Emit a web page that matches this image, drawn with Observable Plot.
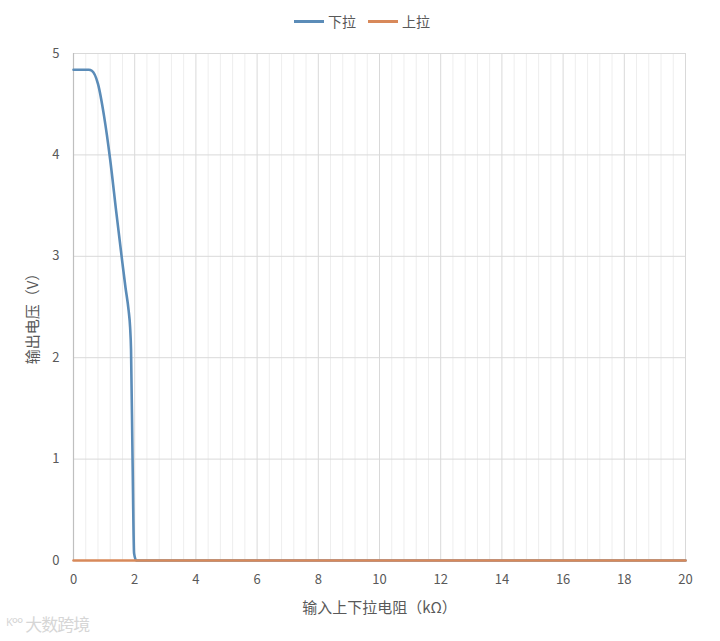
<!DOCTYPE html>
<html><head><meta charset="utf-8">
<script src="https://cdn.jsdelivr.net/npm/d3@7"></script>
<script src="https://cdn.jsdelivr.net/npm/@observablehq/plot@0.6"></script>
<style>
body{margin:0;background:#fff;font-family:"Noto Sans CJK SC","Noto Sans",sans-serif;}
#wrap{position:relative;width:720px;height:641px;overflow:hidden;}
#legend{position:absolute;top:11px;left:0;width:724px;display:flex;justify-content:center;align-items:center;font-size:14px;color:#595959;line-height:20px;}
.item{display:flex;align-items:center;margin:0 6px;}
.sw{display:inline-block;width:30px;height:3px;margin-right:4px;}
#wm{position:absolute;left:6px;top:611px;font-size:17px;color:#d6d6d6;letter-spacing:-1px;}
</style></head>
<body>
<div id="wrap">
  <div id="chart"></div>
  <div id="legend"></div>
  <div id="wm">ᴷ°° 大数跨境</div>
</div>
<script>
const seriesNames = ["下拉", "上拉"];
const seriesColors = ["#5b8cb8", "#d8895a"];
const pullDownX = [0, 0.5, 0.6, 0.8, 1.0, 1.2, 1.4, 1.6, 1.7, 1.8, 1.85, 1.88, 1.93, 1.98, 2.05, 20];
const pullDownY = [4.84, 4.84, 4.83, 4.70, 4.38, 3.95, 3.43, 2.93, 2.69, 2.47, 2.30, 2.08, 1.0, 0.07, 0, 0];
const pullUpX = [0, 20];
const pullUpY = [0, 0];
const xTicks = [0, 2, 4, 6, 8, 10, 12, 14, 16, 18, 20];
const xMinorTicks = [0.4,0.8,1.2,1.6,2.4,2.8,3.2,3.6,4.4,4.8,5.2,5.6,6.4,6.8,7.2,7.6,8.4,8.8,9.2,9.6,10.4,10.8,11.2,11.6,12.4,12.8,13.2,13.6,14.4,14.8,15.2,15.6,16.4,16.8,17.2,17.6,18.4,18.8,19.2,19.6];
const yTicks = [0, 1, 2, 3, 4, 5];
const xTitle = "输入上下拉电阻（kΩ）";
const yTitle = "输出电压（V）";

const down = pullDownX.map((x, i) => ({x, y: pullDownY[i], s: seriesNames[0]}));
const up = pullUpX.map((x, i) => ({x, y: pullUpY[i], s: seriesNames[1]}));

const chart = Plot.plot({
  width: 720, height: 641,
  marginTop: 53, marginBottom: 81, marginLeft: 73, marginRight: 35,
  style: {fontFamily: '"Noto Sans CJK SC","Noto Sans",sans-serif', fontSize: "13px", color: "#595959", background: "#fff", overflow: "visible"},
  x: {domain: [0, 20]},
  y: {domain: [0, 5]},
  marks: [
    Plot.ruleX(xMinorTicks, {stroke: "#eeeeee", strokeWidth: 1}),
    Plot.ruleX(xTicks, {stroke: "#d9d9d9", strokeWidth: 1}),
    Plot.ruleY(yTicks, {stroke: "#d9d9d9", strokeWidth: 1}),
    Plot.ruleX([0], {stroke: "#bfbfbf", strokeWidth: 1.2}),
    Plot.axisX({ticks: xTicks, tickSize: 0, tickPadding: 14, label: xTitle, labelArrow: "none", labelAnchor: "center", labelOffset: 52, fontSize: 13, tickFormat: d => String(d)}),
    Plot.axisY({ticks: yTicks, tickSize: 0, tickPadding: 14, label: yTitle, labelArrow: "none", labelAnchor: "center", labelOffset: 46, fontSize: 13, tickFormat: d => String(d)}),
    Plot.line(down, {x: "x", y: "y", stroke: seriesColors[0], strokeWidth: 2.6, curve: "monotone-x"}),
    Plot.line(up, {x: "x", y: "y", stroke: seriesColors[1], strokeWidth: 2.6})
  ]
});
d3.select(chart).selectAll("text").each(function() {
  const t = this.textContent;
  if (t === xTitle) {
    this.style.fontSize = "15px";
  } else if (t === yTitle) {
    this.style.fontSize = "15px";
    const tr = this.getAttribute("transform") || "";
    this.setAttribute("transform", tr + " translate(-8,0)");
  }
});
document.getElementById("chart").appendChild(chart);

const lg = d3.select("#legend");
seriesNames.forEach((n, i) => {
  const it = lg.append("div").attr("class", "item");
  it.append("span").attr("class", "sw").style("background", seriesColors[i]);
  it.append("span").text(n);
});
</script>
</body></html>
